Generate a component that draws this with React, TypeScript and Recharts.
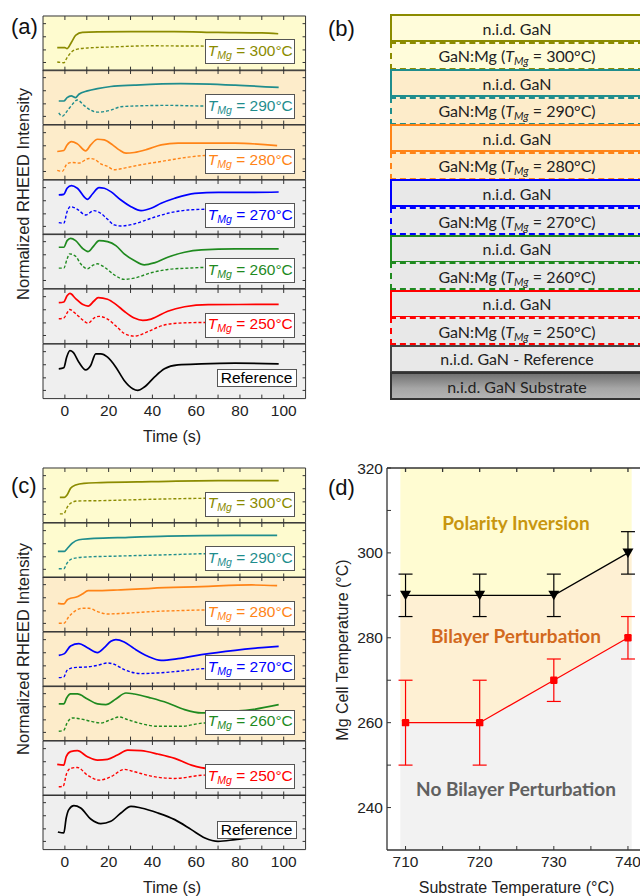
import React from 'react';
import { LineChart, Line, XAxis, YAxis, ComposedChart, Area, ErrorBar } from 'recharts';

type Pt = [number, number];

// ---------------- Panel (a): RHEED traces (time s, intensity 0-10 within each strip)
const a300Solid: Pt[] = [[-3.5, 4.2], [0, 4.2], [1, 4.05], [3, 5.2], [5, 6.5], [8, 7.0], [15, 7.1], [30, 7.15], [50, 7.15], [70, 7.0], [90, 6.9], [97.5, 6.75]];
const a300Dash: Pt[] = [[-3.5, 1.6], [-0.5, 1.46], [1, 2.4], [3.4, 3.55], [5.7, 3.95], [10.3, 4.15], [21, 4.33], [39, 4.55], [64, 4.5], [97, 4.5]];
const a290Solid: Pt[] = [[-2.8, 4.32], [-0.5, 4.32], [1, 4.94], [2.9, 5.25], [4.9, 4.94], [6.4, 5.56], [10.3, 6.17], [14.9, 6.6], [21, 6.98], [31.7, 7.22], [53, 7.5], [77.8, 7.22], [97.7, 6.8]];
const a290Dash: Pt[] = [[-2.8, 2.16], [-1.2, 1.54], [1, 2.47], [3.4, 3.7], [5.7, 4.5], [8.7, 3.52], [11.8, 2.65], [14.9, 2.28], [21, 2.65], [25.6, 3.27], [31.7, 3.4], [47, 3.52], [64, 3.4], [97, 3.4]];
const a280Solid: Pt[] = [[-3.5, 5.15], [-0.5, 5.33], [1, 6.36], [3, 6.97], [5.7, 6.55], [9.5, 5.27], [11.8, 6.36], [14.9, 7.39], [18, 7.27], [21.8, 6.36], [24.8, 5.45], [27.9, 4.85], [31.7, 4.97], [37.9, 5.58], [44, 6.36], [51.7, 6.67], [62.4, 6.67], [77.8, 6.67], [97, 6.24]];
const a280Dash: Pt[] = [[-3.5, 1.7], [-1.2, 1.52], [1, 2.9], [3.4, 3.15], [6.4, 3.03], [11, 3.88], [13.3, 3.76], [16.4, 2.9], [19.5, 2.42], [22.5, 1.82], [27.1, 2.12], [34.8, 2.73], [44, 3.33], [56.3, 4.12], [64, 4.42], [97, 4.6]];
const a270Solid: Pt[] = [[-2.8, 7.26], [-0.5, 7.38], [1, 8.48], [3, 8.96], [5.7, 8.48], [10.3, 6.46], [12.6, 7.44], [15.6, 8.6], [18, 8.48], [21, 7.87], [25.6, 6.34], [30.2, 5.12], [34.8, 4.39], [39.4, 4.82], [44, 5.73], [50.2, 6.65], [59.4, 7.56], [70, 7.74], [85.4, 7.74], [97.7, 7.8]];
const a270Dash: Pt[] = [[-2.8, 2.2], [-0.5, 2.07], [1, 4.2], [2.6, 5.12], [5.7, 4.63], [9.5, 3.6], [13.3, 4.39], [16.4, 3.9], [19.5, 2.8], [22.5, 1.77], [25.6, 1.58], [31.7, 1.95], [39.4, 2.99], [47, 3.9], [56.3, 4.51], [64, 4.63], [97, 4.7]];
const a260Solid: Pt[] = [[-2.8, 7.58], [-0.5, 7.58], [1, 8.79], [2.6, 9.21], [4.9, 8.79], [8, 7.39], [10.6, 6.79], [13.3, 7.88], [15.6, 8.79], [19.5, 8.6], [23.3, 7.88], [27.1, 6.36], [31.7, 5.15], [36.3, 4.36], [40.9, 4.73], [47, 5.76], [54.7, 6.67], [62.4, 7.09], [77.8, 7.27], [97.7, 7.27]];
const a260Dash: Pt[] = [[-2.8, 3.76], [-0.5, 3.76], [1, 5.45], [2.1, 6.36], [4.9, 5.94], [7.2, 4.55], [10.3, 3.64], [12.6, 4.24], [14.9, 4.55], [18, 3.94], [22.5, 2.55], [27.1, 1.7], [31.7, 1.94], [39.4, 2.91], [47, 3.52], [56.3, 3.76], [64, 3.88], [97, 3.9]];
const a250Solid: Pt[] = [[-2.8, 7.5], [-0.5, 7.63], [1, 8.75], [2.3, 9.19], [4.9, 8.25], [8, 7.19], [10.6, 6.88], [13.3, 7.81], [15.2, 8.44], [19.5, 8.13], [23.3, 7.19], [27.1, 5.94], [31.7, 4.69], [35.6, 4.25], [39.4, 4.5], [47, 5.94], [54.7, 6.75], [65.5, 7.13], [97.7, 7.19]];
const a250Dash: Pt[] = [[-2.8, 4.56], [-0.5, 4.69], [1, 5.63], [2.1, 6.25], [4.9, 5.5], [8, 4.38], [10.6, 3.75], [13.3, 4.69], [15.6, 5.0], [19.5, 4.5], [23.3, 3.25], [27.1, 1.88], [31.7, 1.38], [37.9, 2.19], [44, 3.25], [51.7, 3.75], [64, 3.88], [97, 3.9]];
const aRefSolid: Pt[] = [[-2.8, 5.45], [-0.5, 5.64], [0.8, 7.58], [2.3, 8.79], [3.8, 8.48], [6.4, 6.67], [9.5, 5.27], [11.8, 6.06], [14.1, 8.18], [16.4, 8.18], [19.5, 7.58], [23.3, 5.76], [27.1, 3.33], [31, 1.82], [33.3, 1.52], [36.3, 2.12], [40.9, 3.94], [45.5, 5.45], [51.7, 6.18], [62.4, 6.36], [77.8, 6.48], [97.7, 6.36]];

// ---------------- Panel (c)
const c300Solid: Pt[] = [[-2.3, 4.63], [-0.2, 4.63], [1, 5.06], [2.6, 6.28], [4.9, 6.89], [8.7, 7.2], [16.4, 7.32], [39.4, 7.5], [70, 7.68], [97.7, 7.68]];
const c300Dash: Pt[] = [[-2.3, 1.59], [-0.5, 1.59], [0.8, 2.62], [2.6, 3.54], [5.7, 3.96], [16.4, 4.02], [39.4, 4.27], [64, 4.45], [97, 4.5]];
const c290Solid: Pt[] = [[-3.2, 4.79], [-0.2, 4.79], [1, 5.28], [3.4, 6.32], [6.4, 6.93], [11.8, 7.12], [24, 7.3], [47, 7.6], [77.8, 7.73], [97, 7.73]];
const c290Dash: Pt[] = [[-2.8, 1.6], [-0.5, 1.6], [1, 2.64], [3.4, 3.44], [8.7, 3.74], [24, 3.93], [47, 4.17], [64, 4.36], [97, 4.4]];
const c280Solid: Pt[] = [[-3.2, 5.18], [-0.5, 5.06], [1, 5.79], [2.6, 6.1], [4.9, 6.28], [8, 6.89], [10.6, 7.5], [13.3, 7.5], [24, 7.62], [39.4, 7.93], [62.4, 8.23], [85.4, 8.54], [97, 8.41]];
const c280Dash: Pt[] = [[-2.8, 1.52], [-0.5, 1.52], [1.8, 2.74], [4.9, 3.84], [8, 4.27], [11, 4.27], [14.9, 3.66], [19.5, 3.23], [27.1, 3.35], [39.4, 3.66], [51.7, 3.84], [64, 3.96], [97, 4.0]];
const c270Solid: Pt[] = [[-2.8, 5.73], [-0.2, 6.04], [2.6, 7.44], [6.4, 7.87], [10.3, 7.13], [14.9, 6.22], [18, 7.13], [21, 8.29], [23.3, 8.6], [27.1, 8.17], [31.7, 6.95], [37.9, 5.55], [44, 4.82], [51.7, 5.12], [62.4, 5.85], [77.8, 6.65], [90, 7.13], [97.7, 7.38]];
const c270Dash: Pt[] = [[-2.8, 1.65], [-0.5, 1.77], [1, 2.99], [4.1, 3.48], [10.3, 3.6], [14.9, 3.9], [19.5, 4.33], [22.5, 4.09], [27.1, 3.11], [34.8, 2.38], [42.5, 2.5], [51.7, 2.8], [64, 3.29], [97, 3.4]];
const c260Solid: Pt[] = [[-2.8, 6.71], [-0.5, 6.71], [0.8, 7.8], [2.6, 8.54], [5.7, 8.54], [10.3, 7.62], [14.9, 6.71], [18.7, 6.59], [23.3, 7.62], [27.9, 8.72], [31.7, 8.54], [39.4, 7.8], [47, 6.89], [54.7, 5.67], [62.4, 5.06], [70, 5.18], [85.4, 5.67], [97.7, 6.59]];
const c260Dash: Pt[] = [[-2.8, 1.71], [-0.5, 1.89], [1, 3.23], [3.4, 4.15], [7.2, 3.96], [11.8, 3.54], [16.4, 3.23], [21, 3.84], [24.8, 4.33], [28.7, 3.84], [34.8, 3.11], [42.5, 2.62], [53.2, 2.62], [64, 3.23], [97, 3.3]];
const c250Solid: Pt[] = [[-3.5, 5.71], [-0.5, 5.58], [0.6, 7.12], [2.6, 8.04], [5.7, 8.22], [10.3, 7.12], [14.9, 6.5], [19.5, 6.63], [24, 7.42], [28.7, 8.34], [34.8, 8.22], [42.5, 7.61], [50.2, 6.81], [57.8, 5.58], [65.5, 4.97], [77.8, 5.15], [97.7, 5.58]];
const c250Dash: Pt[] = [[-2.8, 1.6], [-0.8, 1.7], [0.8, 4.05], [2.6, 4.97], [5.7, 5.15], [10.3, 3.74], [15.6, 2.82], [21, 3.44], [27.1, 4.79], [31.7, 4.36], [39.4, 3.56], [50.2, 3.13], [64, 3.74], [97, 3.8]];
const cRefSolid: Pt[] = [[-3.2, 3.23], [-0.5, 3.05], [0.6, 5.79], [1.8, 7.32], [4.1, 8.05], [7.2, 7.62], [11.8, 5.61], [16.4, 4.76], [21, 5.18], [25.6, 6.71], [30.2, 7.93], [34.8, 7.62], [42.5, 6.71], [50.2, 5.49], [57.8, 3.66], [64, 2.13], [70, 1.52], [77.8, 1.83], [87, 2.26], [97, 3.05]];

const stripTemps = ['300', '290', '280', '270', '260', '250'];
const timeTicks = [0, 20, 40, 60, 80, 100];
const timeMinorTicks = [0, 10, 20, 30, 40, 50, 60, 70, 80, 90, 100];
const stripTicks = [1.5, 3.8, 6.2, 8.6];
const TIME_DOMAIN: [number, number] = [-10, 110];
const STRIP_DOMAIN: [number, number] = [0, 10];

// ---------------- Panel (d)
const substrateTemps = [710, 720, 730, 740];
const inversionMgTemps = [290, 290, 290, 300];
const inversionErr = [5, 5, 5, 5];
const perturbMgTemps = [260, 260, 270, 280];
const perturbErr = [10, 10, 5, 5];
const regionSubstrate = [709.3, 710, 720, 730, 740, 740.5];
const regionInversion = [290, 290, 290, 290, 300, 300];
const regionPerturb = [260, 260, 260, 270, 280, 280];
const MG_DOMAIN: [number, number] = [230, 320];
const SUB_DOMAIN: [number, number] = [707.5, 742.5];
const mgTicks = [240, 260, 280, 300, 320];
const mgMinorTicks = [240, 250, 260, 270, 280, 290, 300, 310, 320];
const subTicks = [710, 720, 730, 740];
const subMinorTicks = [710, 715, 720, 725, 730, 735, 740];

// ---------------- styles
const STRIP_COLORS = ['#8b8b00', '#1f8d8d', '#ff8417', '#0000ff', '#1f8a1f', '#ff0000', '#000000'];
const BG_Y = '#fefbcf';
const BG_O = '#fdecca';
const BG_G = '#efefef';
const A_BG = [BG_Y, BG_O, BG_O, BG_G, BG_G, BG_G, BG_G];
const C_BG = [BG_Y, BG_Y, BG_O, BG_O, BG_O, BG_G, BG_G];
const B_FILL = ['#fffcda', '#fdecca', '#fdecca', '#e8e8e8', '#e8e8e8', '#e8e8e8'];
const FRAME = '#333';
const SANS = "'Liberation Sans', Arial, sans-serif";
const LATO = "Lato, 'Open Sans', sans-serif";

const PL = 42.7;
const PR = 305.3;
const A_BOUNDS = [15.7, 70.4, 125.0, 179.7, 234.3, 289.0, 343.7, 398.3];
const C_BOUNDS = [468, 522.6, 577.1, 631.7, 686.3, 740.9, 795.4, 850];

const blank = () => '';
const rows = (pts: Pt[]) => pts.map(([t, v]) => ({ t, v }));

function TMg({ temp }: { temp: string }) {
  return (
    <span>
      <i>T</i>
      <sub style={{ fontSize: 10.5, fontStyle: 'italic', verticalAlign: '-3px', lineHeight: 0 }}>Mg</sub> = {temp}°C
    </span>
  );
}

function StripChart(props: { top: number; bottom: number; solid: Pt[]; dash: Pt[] | null; color: string; last: boolean }) {
  const { top, bottom, solid, dash, color, last } = props;
  const pad = 2;
  const labH = last ? 22 : 0;
  const h = bottom - top;
  return (
    <div style={{ position: 'absolute', left: PL - pad, top: top - pad }}>
      <LineChart width={PR - PL + 2 * pad} height={h + 2 * pad + labH} margin={{ top: pad, right: pad, bottom: pad, left: pad }}>
        <XAxis xAxisId="b" dataKey="t" type="number" orientation="bottom" mirror domain={TIME_DOMAIN} ticks={timeMinorTicks} tickSize={4} tickFormatter={blank} stroke={FRAME} allowDataOverflow />
        {last && (
          <XAxis xAxisId="lab" dataKey="t" type="number" orientation="bottom" domain={TIME_DOMAIN} ticks={timeTicks} tickLine={false} axisLine={false} height={labH} tickSize={4} tickMargin={2.2} tick={{ fontSize: 15.5, fill: '#222' }} allowDataOverflow />
        )}
        <XAxis xAxisId="t" dataKey="t" type="number" orientation="top" mirror domain={TIME_DOMAIN} ticks={timeMinorTicks} tickSize={4} tickFormatter={blank} stroke={FRAME} allowDataOverflow />
        <YAxis yAxisId="l" type="number" orientation="left" mirror domain={STRIP_DOMAIN} ticks={stripTicks} tickSize={3} tickFormatter={blank} stroke={FRAME} allowDataOverflow />
        <YAxis yAxisId="r" type="number" orientation="right" mirror domain={STRIP_DOMAIN} ticks={stripTicks} tickSize={3} tickFormatter={blank} stroke={FRAME} allowDataOverflow />
        {dash && (
          <Line xAxisId="b" yAxisId="l" data={rows(dash)} dataKey="v" type="monotone" stroke={color} strokeWidth={1.4} strokeDasharray="3 2" dot={false} isAnimationActive={false} />
        )}
        <Line xAxisId="b" yAxisId="l" data={rows(solid)} dataKey="v" type="monotone" stroke={color} strokeWidth={1.7} dot={false} isAnimationActive={false} />
      </LineChart>
    </div>
  );
}

function TracePanel(props: { bounds: number[]; solids: Pt[][]; dashes: (Pt[] | null)[]; bgs: string[]; titleY: number; timeY: number }) {
  const { bounds, solids, dashes, bgs, titleY, timeY } = props;
  return (
    <>
      {bgs.map((bg, i) => (
        <div key={'bg' + i} style={{ position: 'absolute', left: PL, top: bounds[i], width: PR - PL, height: bounds[i + 1] - bounds[i], background: bg }} />
      ))}
      {solids.map((s, i) => (
        <StripChart key={'ch' + i} top={bounds[i]} bottom={bounds[i + 1]} solid={s} dash={dashes[i]} color={STRIP_COLORS[i]} last={i === solids.length - 1} />
      ))}
      {solids.map((_, i) => {
        const b = bounds[i + 1];
        const isRef = i === stripTemps.length;
        return isRef ? (
          <div key={'lb' + i} style={{ position: 'absolute', left: 216.5, top: b - 29, width: 80, height: 17.5, boxSizing: 'border-box', border: '1px solid #555', background: '#fff', display: 'flex', alignItems: 'center', justifyContent: 'center', fontSize: 15.5, color: '#000', fontFamily: SANS }}>
            Reference
          </div>
        ) : (
          <div key={'lb' + i} style={{ position: 'absolute', left: 205.3, top: b - 31, width: 90, height: 25, boxSizing: 'border-box', border: '1px solid #555', background: '#fff', display: 'flex', alignItems: 'center', justifyContent: 'center', paddingBottom: 2, fontSize: 15.5, color: STRIP_COLORS[i], fontFamily: SANS }}>
            <TMg temp={stripTemps[i]} />
          </div>
        );
      })}
      <div style={{ position: 'absolute', left: 22.5, top: titleY, transform: 'translate(-50%, -50%) rotate(-90deg)', whiteSpace: 'nowrap', fontSize: 16.5, color: '#222', fontFamily: SANS }}>
        Normalized RHEED Intensity
      </div>
      <div style={{ position: 'absolute', left: 172, top: timeY, transform: 'translate(-50%, -50%)', whiteSpace: 'nowrap', fontSize: 16, color: '#222', fontFamily: SANS }}>
        Time (s)
      </div>
    </>
  );
}

function LayerStack() {
  const top = 14;
  const rowH = 27.57;
  const items: { text: React.ReactNode; border: string; fill: string }[] = [];
  stripTemps.forEach((t, i) => {
    items.push({ text: 'n.i.d. GaN', border: `2px solid ${STRIP_COLORS[i]}`, fill: B_FILL[i] });
    items.push({
      text: (
        <span>
          GaN:Mg (<i>T</i>
          <sub style={{ fontSize: 11, fontStyle: 'italic', verticalAlign: '-3px', lineHeight: 0 }}>Mg</sub> = {t}°C)
        </span>
      ),
      border: `2px dashed ${STRIP_COLORS[i]}`,
      fill: B_FILL[i],
    });
  });
  items.push({ text: 'n.i.d. GaN - Reference', border: '2px solid #444', fill: '#e8e8e8' });
  items.push({ text: 'n.i.d. GaN Substrate', border: '2px solid #333', fill: 'linear-gradient(#727272, #a6a6a6 60%, #b4b4b4)' });
  return (
    <>
      {items.map((it, i) => (
        <div key={'ly' + i} style={{ position: 'absolute', left: 390, top: top + i * rowH, width: 254, height: rowH + 0.5, boxSizing: 'border-box', border: it.border, background: it.fill, display: 'flex', alignItems: 'center', justifyContent: 'center', fontFamily: LATO, fontSize: 16, color: '#222' }}>
          {it.text}
        </div>
      ))}
    </>
  );
}

function TriangleDot(p: any) {
  const { cx, cy, index } = p;
  if (cx == null || cy == null) return <g key={'tri' + index} />;
  return <path key={'tri' + index} d={`M${cx - 5.5},${cy - 4.5} L${cx + 5.5},${cy - 4.5} L${cx},${cy + 5} Z`} fill="#000" />;
}

function SquareDot(p: any) {
  const { cx, cy, index } = p;
  if (cx == null || cy == null) return <g key={'sq' + index} />;
  return <rect key={'sq' + index} x={cx - 3.7} y={cy - 3.7} width={7.4} height={7.4} rx={1.2} fill="#ff0000" />;
}

function PhaseDiagram() {
  const regionRows = regionSubstrate.map((x, i) => ({ x, inv: regionInversion[i], pert: regionPerturb[i] }));
  const invRows = substrateTemps.map((x, i) => ({ x, y: inversionMgTemps[i], err: inversionErr[i] }));
  const pertRows = substrateTemps.map((x, i) => ({ x, y: perturbMgTemps[i], err: perturbErr[i] }));
  const [lo, hi] = MG_DOMAIN;
  return (
    <div style={{ position: 'absolute', left: 330, top: 440 }}>
      <ComposedChart width={330} height={456} margin={{ top: 28, right: 13.5, bottom: 26, left: 17 }}>
        <XAxis xAxisId="x" dataKey="x" type="number" orientation="bottom" domain={SUB_DOMAIN} ticks={subTicks} tickLine={false} height={20} tickSize={4} tickMargin={2.2} stroke={FRAME} strokeWidth={1.3} tick={{ fontSize: 15.5, fill: '#222' }} allowDataOverflow />
        <XAxis xAxisId="xb" dataKey="x" type="number" orientation="bottom" mirror domain={SUB_DOMAIN} ticks={subMinorTicks} tickSize={4} axisLine={false} tickFormatter={blank} stroke={FRAME} allowDataOverflow />
        <XAxis xAxisId="xt" dataKey="x" type="number" orientation="top" mirror domain={SUB_DOMAIN} ticks={subMinorTicks} tickSize={4} tickFormatter={blank} stroke={FRAME} strokeWidth={1.3} allowDataOverflow />
        <YAxis yAxisId="y" type="number" orientation="left" domain={MG_DOMAIN} ticks={mgTicks} tickLine={false} width={40} tickSize={2} tickMargin={2} stroke={FRAME} strokeWidth={1.3} tick={{ fontSize: 15.5, fill: '#222' }} allowDataOverflow />
        <YAxis yAxisId="ym" type="number" orientation="left" mirror domain={MG_DOMAIN} ticks={mgMinorTicks} tickSize={4} axisLine={false} tickFormatter={blank} stroke={FRAME} allowDataOverflow />
        <Area xAxisId="x" yAxisId="y" data={regionRows} dataKey={(d: any) => [d.inv, hi]} type="linear" stroke="none" fill="#fffcd2" fillOpacity={1} isAnimationActive={false} />
        <Area xAxisId="x" yAxisId="y" data={regionRows} dataKey={(d: any) => [d.pert, d.inv]} type="linear" stroke="none" fill="#fef0d3" fillOpacity={1} isAnimationActive={false} />
        <Area xAxisId="x" yAxisId="y" data={regionRows} dataKey={(d: any) => [lo, d.pert]} type="linear" stroke="none" fill="#f2f2f2" fillOpacity={1} isAnimationActive={false} />
        <Line xAxisId="x" yAxisId="y" data={invRows} dataKey="y" type="linear" stroke="#000" strokeWidth={1.2} dot={TriangleDot} isAnimationActive={false}>
          <ErrorBar dataKey="err" width={7} stroke="#000" strokeWidth={1.2} direction="y" />
        </Line>
        <Line xAxisId="x" yAxisId="y" data={pertRows} dataKey="y" type="linear" stroke="#ff0000" strokeWidth={1.2} dot={SquareDot} isAnimationActive={false}>
          <ErrorBar dataKey="err" width={7} stroke="#ff0000" strokeWidth={1.2} direction="y" />
        </Line>
      </ComposedChart>
    </div>
  );
}

const annoStyle = (cx: number, cy: number, color: string): React.CSSProperties => ({
  position: 'absolute', left: cx, top: cy, transform: 'translate(-50%, -50%)', whiteSpace: 'nowrap',
  fontFamily: LATO, fontWeight: 700, fontSize: 19, color,
});

const panelLabel = (left: number, top: number): React.CSSProperties => ({
  position: 'absolute', left, top, fontFamily: SANS, fontSize: 22, lineHeight: '24px', color: '#111',
});

export default function App() {
  return (
    <div style={{ position: 'absolute', left: 0, top: 0, width: 640, height: 896, overflow: 'hidden', background: '#fff', fontFamily: SANS }}>
      <TracePanel
        bounds={A_BOUNDS}
        solids={[a300Solid, a290Solid, a280Solid, a270Solid, a260Solid, a250Solid, aRefSolid]}
        dashes={[a300Dash, a290Dash, a280Dash, a270Dash, a260Dash, a250Dash, null]}
        bgs={A_BG}
        titleY={194}
        timeY={437}
      />
      <TracePanel
        bounds={C_BOUNDS}
        solids={[c300Solid, c290Solid, c280Solid, c270Solid, c260Solid, c250Solid, cRefSolid]}
        dashes={[c300Dash, c290Dash, c280Dash, c270Dash, c260Dash, c250Dash, null]}
        bgs={C_BG}
        titleY={648.5}
        timeY={887.5}
      />
      <LayerStack />
      <PhaseDiagram />
      <div style={annoStyle(516, 521.5, '#c8960f')}>Polarity Inversion</div>
      <div style={annoStyle(516, 635, '#d2691e')}>Bilayer Perturbation</div>
      <div style={annoStyle(516, 787.5, '#606060')}>No Bilayer Perturbation</div>
      <div style={{ position: 'absolute', left: 343, top: 650, transform: 'translate(-50%, -50%) rotate(-90deg)', whiteSpace: 'nowrap', fontSize: 16, color: '#222', fontFamily: SANS }}>
        Mg Cell Temperature (°C)
      </div>
      <div style={{ position: 'absolute', left: 516.5, top: 887.5, transform: 'translate(-50%, -50%)', whiteSpace: 'nowrap', fontSize: 16, color: '#222', fontFamily: SANS }}>
        Substrate Temperature (°C)
      </div>
      <div style={panelLabel(11, 14.5)}>(a)</div>
      <div style={panelLabel(328, 17)}>(b)</div>
      <div style={panelLabel(11, 474)}>(c)</div>
      <div style={panelLabel(328, 475.5)}>(d)</div>
    </div>
  );
}
